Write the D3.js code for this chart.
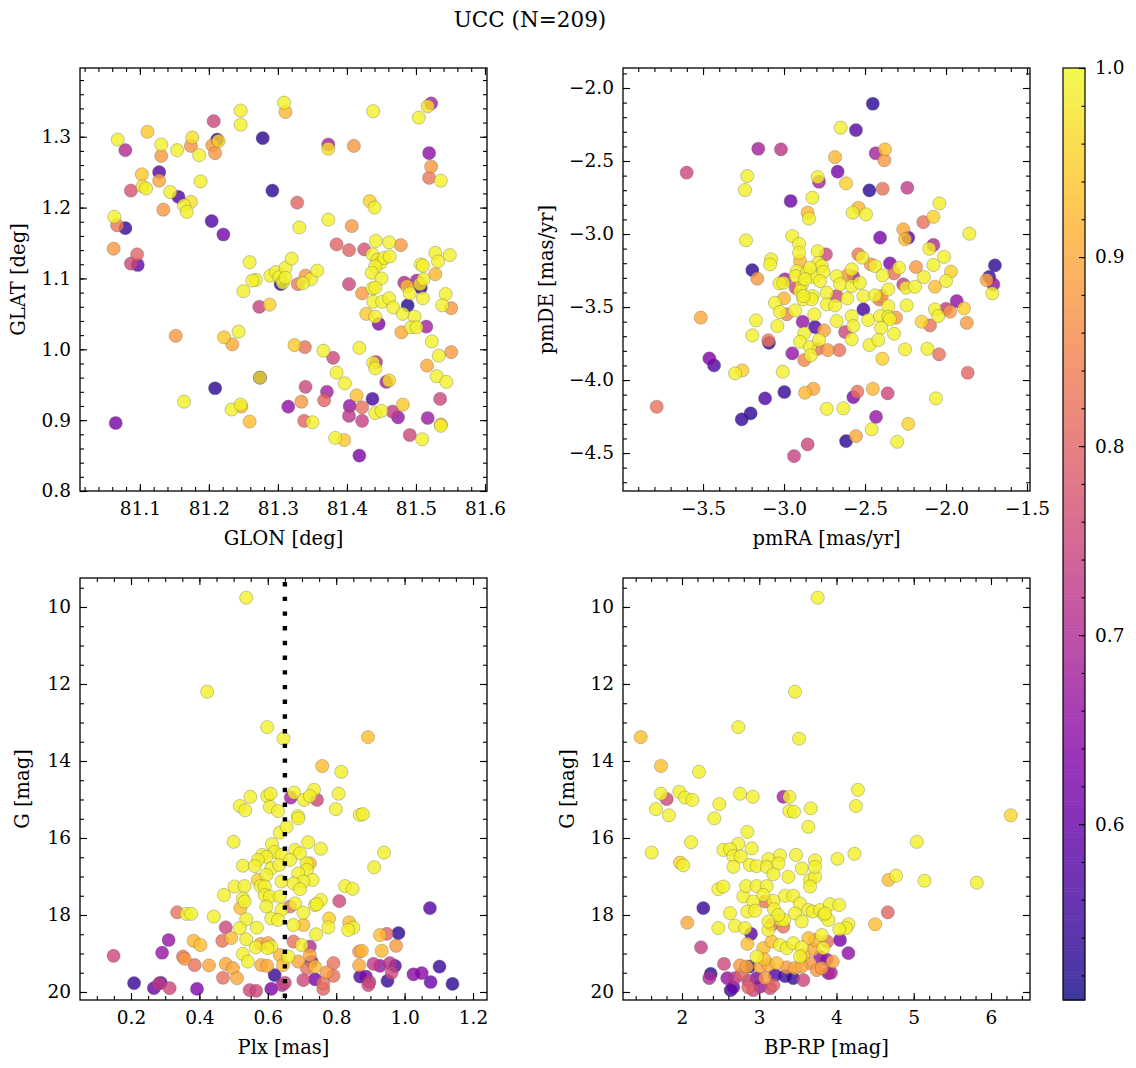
<!DOCTYPE html>
<html><head><meta charset="utf-8">
<script src="https://cdn.jsdelivr.net/npm/d3@7"></script>
<style>body{margin:0;background:#fff}</style>
</head><body><script>
// ---------------- DATA ----------------
const title = "UCC (N=209)";
// [GLON, GLAT, prob]
const glonGlat = [
[81.309,1.348,.99],[81.311,1.335,.92],[81.246,1.337,.99],[81.246,1.317,.99],[81.207,1.322,.75],[81.068,1.296,.99],[81.079,1.281,.70],[81.111,1.307,.94],[81.131,1.289,.99],[81.131,1.273,.88],[81.154,1.281,.99],[81.176,1.299,.97],[81.174,1.287,.87],[81.186,1.274,.99],[81.212,1.296,.53],[81.214,1.294,.96],[81.205,1.288,.88],[81.209,1.277,.88],[81.278,1.298,.53],[81.103,1.247,.94],[81.128,1.250,.58],[81.128,1.238,.90],[81.104,1.230,.97],[81.109,1.227,.99],[81.087,1.224,.77],[81.144,1.222,.99],[81.156,1.215,.57],[81.174,1.208,.97],[81.164,1.203,.99],[81.168,1.194,.99],[81.188,1.237,.99],[81.134,1.197,.88],[81.292,1.224,.53],[81.063,1.187,.99],[81.067,1.175,.83],[81.079,1.171,.54],[81.204,1.181,.57],[81.221,1.162,.62],[81.062,1.142,.88],[81.096,1.134,.80],[81.087,1.121,.75],[81.097,1.119,.59],[81.259,1.123,.99],[81.268,1.098,.99],[81.263,1.097,.99],[81.250,1.082,.99],[81.273,1.060,.74],[81.288,1.063,.95],[81.289,1.104,.99],[81.297,1.109,.99],[81.302,1.102,.99],[81.307,1.094,.99],[81.311,1.115,.99],[81.311,1.101,.99],[81.320,1.128,.99],[81.304,1.092,.53],[81.152,1.019,.88],[81.222,1.017,.94],[81.234,1.007,.90],[81.243,1.025,.99],[81.274,0.960,.53],[81.274,0.960,.97],[81.209,0.945,.53],[81.164,0.926,.99],[81.233,0.915,.99],[81.246,0.922,.99],[81.247,0.919,.93],[81.259,0.898,.93],[81.065,0.896,.62],[81.315,0.919,.65],
[81.438,1.336,.99],[81.504,1.327,.99],[81.517,1.343,.97],[81.522,1.347,.68],[81.519,1.277,.65],[81.522,1.258,.88],[81.519,1.242,.83],[81.536,1.238,.99],[81.373,1.289,.68],[81.373,1.283,.97],[81.410,1.287,.88],[81.328,1.207,.80],[81.433,1.209,.95],[81.440,1.200,.99],[81.331,1.172,.99],[81.373,1.183,.99],[81.407,1.174,.88],[81.385,1.148,.80],[81.403,1.140,.80],[81.425,1.141,.77],[81.442,1.153,.99],[81.461,1.151,.99],[81.478,1.147,.88],[81.437,1.134,.99],[81.444,1.126,.99],[81.449,1.122,.99],[81.441,1.117,.99],[81.454,1.129,.99],[81.462,1.131,.99],[81.436,1.108,.99],[81.450,1.100,.99],[81.340,1.104,.88],[81.348,1.099,.99],[81.336,1.093,.99],[81.329,1.092,.83],[81.357,1.111,.99],[81.403,1.092,.75],[81.422,1.079,.88],[81.437,1.086,.99],[81.441,1.087,.99],[81.438,1.067,.99],[81.451,1.067,.99],[81.461,1.072,.99],[81.467,1.059,.99],[81.483,1.094,.70],[81.487,1.089,.93],[81.491,1.079,.99],[81.501,1.097,.68],[81.507,1.087,.53],[81.506,1.092,.97],[81.510,1.072,.99],[81.511,1.099,.99],[81.507,1.120,.99],[81.510,1.118,.99],[81.528,1.136,.99],[81.532,1.124,.99],[81.549,1.133,.99],[81.528,1.106,.92],[81.543,1.078,.99],[81.538,1.062,.99],[81.551,1.058,.88],[81.488,1.062,.52],[81.481,1.050,.99],[81.498,1.046,.99],[81.493,1.031,.99],[81.501,1.031,.99],[81.515,1.032,.68],[81.479,1.024,.90],[81.428,1.050,.94],[81.441,1.046,.99],[81.446,1.036,.63],[81.523,1.011,.99],[81.533,0.991,.99],[81.551,0.996,.88],[81.516,0.977,.90],[81.530,0.962,.99],[81.544,0.954,.99],[81.535,0.930,.75],[81.324,1.006,.94],[81.339,1.003,.82],[81.366,0.998,.99],[81.380,0.988,.75],[81.418,1.002,.99],[81.385,0.967,.99],[81.397,0.952,.99],[81.438,0.981,.99],[81.442,0.982,.70],[81.441,0.973,.99],[81.457,0.954,.68],[81.461,0.956,.97],[81.340,0.947,.75],[81.371,0.940,.68],[81.367,0.928,.80],[81.334,0.926,.88],[81.414,0.935,.93],[81.437,0.930,.56],[81.404,0.920,.66],[81.422,0.918,.82],[81.403,0.906,.72],[81.422,0.899,.74],[81.441,0.910,.99],[81.450,0.913,.99],[81.466,0.912,.73],[81.474,0.904,.66],[81.481,0.922,.94],[81.338,0.899,.80],[81.350,0.897,.99],[81.517,0.903,.67],[81.536,0.894,.94],[81.536,0.892,.99],[81.491,0.879,.75],[81.509,0.873,.99],[81.383,0.875,.99],[81.396,0.872,.94],[81.418,0.850,.63]
];
// [pmRA, pmDE, prob]
const pmraPmde = [
[-3.159,-2.416,.68],[-3.019,-2.420,.72],[-3.601,-2.580,.75],[-3.227,-2.603,.99],[-3.241,-2.699,.99],[-2.792,-2.610,.99],[-2.784,-2.642,.68],[-2.959,-2.774,.60],[-2.825,-2.751,.99],[-2.854,-2.854,.92],[-2.846,-2.895,.99],[-3.235,-3.043,.99],[-2.949,-3.014,.99],[-2.907,-3.067,.99],[-2.907,-3.128,.99],[-2.792,-3.117,.99],[-2.741,-3.139,.75],[-3.080,-3.173,.99],[-3.086,-3.208,.99],[-2.901,-3.185,.92],[-3.196,-3.247,.53],[-3.165,-3.306,.88],[-3.029,-3.338,.99],[-2.994,-3.310,.68],[-3.004,-3.334,.99],[-2.928,-3.368,.75],[-2.891,-3.352,.99],[-2.823,-3.425,.99],[-2.881,-3.447,.99],[-3.000,-3.441,.92],[-3.056,-3.471,.99],[-3.025,-3.534,.99],[-2.983,-3.550,.85],[-2.932,-3.523,.99],[-2.813,-3.550,.99],[-2.736,-3.402,.99],[-2.736,-3.482,.99],[-3.514,-3.573,.90],[-3.173,-3.591,.99],[-3.041,-3.630,.99],[-2.885,-3.601,.66],[-2.809,-3.637,.57],[-2.875,-3.680,.99],[-2.753,-3.660,.90],[-3.196,-3.694,.99],[-3.097,-3.728,.83],[-3.093,-3.745,.53],[-2.901,-3.738,.99],[-2.840,-3.774,.99],[-2.784,-3.726,.99],[-2.792,-3.786,.82],[-2.730,-3.795,.88],[-2.949,-3.817,.66],[-2.835,-3.831,.99],[-2.875,-3.863,.85],[-3.461,-3.852,.63],[-3.432,-3.900,.57],[-3.302,-3.954,.99],[-3.257,-3.934,.95],[-3.008,-3.943,.99],[-2.998,-4.082,.54],[-3.117,-4.126,.57],[-2.870,-4.087,.92],[-2.819,-4.060,.90],[-3.206,-4.228,.53],[-3.261,-4.269,.54],[-3.786,-4.183,.82],[-2.736,-4.197,.99],[-2.854,-4.441,.75],[-2.938,-4.521,.74],
[-2.788,-3.197,.99],[-2.767,-3.219,.99],[-2.922,-3.254,.99],[-2.928,-3.288,.99],[-2.860,-3.265,.99],[-2.813,-3.295,.99],[-2.757,-3.260,.99],[-2.840,-3.231,.99],[-2.870,-3.310,.99],[-2.778,-3.322,.99],[-2.901,-3.391,.99],[-2.829,-3.447,.99],[-2.881,-3.425,.99],
[-2.452,-2.108,.53],[-2.650,-2.272,.99],[-2.556,-2.288,.58],[-2.434,-2.447,.68],[-2.377,-2.420,.93],[-2.381,-2.495,.88],[-2.685,-2.473,.92],[-2.669,-2.573,.62],[-2.617,-2.653,.95],[-2.473,-2.701,.53],[-2.391,-2.690,.82],[-2.239,-2.683,.73],[-2.576,-2.854,.99],[-2.541,-2.820,.92],[-2.494,-2.865,.99],[-2.041,-2.790,.99],[-2.078,-2.882,.95],[-2.140,-2.918,.82],[-1.856,-2.998,.99],[-2.407,-3.025,.62],[-2.264,-2.968,.90],[-2.233,-3.025,.58],[-2.253,-3.036,.93],[-2.078,-3.075,.70],[-2.103,-3.101,.99],[-2.012,-3.156,.99],[-1.698,-3.215,.53],[-1.733,-3.293,.55],[-1.749,-3.315,.90],[-1.708,-3.345,.65],[-1.714,-3.406,.99],[-2.541,-3.139,.83],[-2.517,-3.162,.99],[-2.582,-3.242,.99],[-2.465,-3.208,.88],[-2.438,-3.219,.99],[-2.346,-3.201,.63],[-2.290,-3.231,.99],[-2.321,-3.269,.82],[-2.391,-3.283,.99],[-2.185,-3.226,.88],[-2.078,-3.212,.99],[-1.969,-3.258,.95],[-2.136,-3.295,.99],[-2.000,-3.322,.99],[-2.068,-3.361,.93],[-2.264,-3.345,.73],[-2.247,-3.368,.99],[-2.191,-3.361,.99],[-2.356,-3.379,.99],[-2.675,-3.288,.99],[-2.654,-3.345,.99],[-2.582,-3.356,.99],[-2.609,-3.441,.99],[-2.685,-3.489,.99],[-2.510,-3.425,.99],[-2.438,-3.420,.99],[-2.412,-3.447,.83],[-2.397,-3.425,.88],[-2.675,-3.425,.75],[-2.531,-3.334,.99],[-2.609,-3.283,.88],[-2.572,-3.293,.68],[-2.356,-3.493,.99],[-2.243,-3.489,.99],[-2.510,-3.516,.55],[-2.480,-3.589,.99],[-2.407,-3.562,.99],[-2.356,-3.567,.99],[-2.309,-3.573,.88],[-2.346,-3.584,.99],[-2.582,-3.562,.99],[-2.572,-3.630,.99],[-2.675,-3.596,.99],[-2.401,-3.642,.99],[-2.321,-3.683,.99],[-2.623,-3.671,.75],[-2.582,-3.721,.99],[-2.659,-3.795,.82],[-2.473,-3.760,.99],[-2.418,-3.726,.99],[-2.393,-3.854,.95],[-2.253,-3.790,.99],[-2.150,-3.601,.95],[-2.099,-3.626,.82],[-2.068,-3.516,.99],[-2.048,-3.562,.99],[-2.000,-3.512,.73],[-1.975,-3.532,.88],[-1.934,-3.459,.65],[-1.889,-3.509,.95],[-1.872,-3.608,.88],[-2.115,-3.786,.99],[-2.043,-3.824,.82],[-1.866,-3.950,.80],[-2.062,-4.126,.99],[-2.572,-4.117,.63],[-2.547,-4.080,.82],[-2.452,-4.060,.92],[-2.360,-4.091,.75],[-2.634,-4.194,.99],[-2.432,-4.252,.66],[-2.459,-4.338,.99],[-2.233,-4.300,.95],[-2.617,-4.418,.53],[-2.556,-4.384,.90],[-2.301,-4.423,.99]
];
// [Plx, G, prob]
const plxG = [
[0.537,9.76,.99],[0.423,12.20,.99],[0.598,13.12,.99],[0.646,13.42,.99],[0.893,13.38,.93],[0.759,14.13,.93],[0.815,14.28,.99],[0.549,14.93,.99],[0.598,14.91,.99],[0.608,14.85,.99],[0.518,15.17,.99],[0.534,15.28,.99],[0.606,15.19,.99],[0.630,15.30,.99],[0.677,14.82,.99],[0.667,14.95,.68],[0.706,15.01,.99],[0.735,14.75,.99],[0.723,14.91,.99],[0.744,15.01,.75],[0.807,14.85,.99],[0.799,15.25,.99],[0.869,15.40,.99],[0.878,15.38,.99],[0.688,15.43,.99],
[0.635,15.86,.99],[0.500,16.10,.99],[0.612,16.16,.99],[0.620,16.36,.99],[0.584,16.44,.99],[0.596,16.49,.99],[0.571,16.57,.99],[0.527,16.72,.99],[0.562,16.73,.99],[0.610,16.79,.99],[0.640,16.44,.99],[0.633,16.70,.99],[0.596,16.96,.99],[0.571,17.09,.95],[0.579,17.25,.99],[0.591,17.26,.99],[0.640,17.13,.99],[0.503,17.26,.99],[0.532,17.25,.99],[0.472,17.48,.99],[0.527,17.57,.99],[0.532,17.65,.99],[0.520,17.82,.93],[0.591,17.48,.99],[0.606,17.52,.99],[0.596,17.78,.99],[0.635,17.52,.99],[0.640,17.87,.99],[0.610,18.09,.99],[0.630,18.13,.99],[0.335,17.93,.82],[0.362,17.97,.99],[0.376,17.97,.99],[0.442,18.04,.99],[0.537,18.11,.99],[0.568,18.33,.99],[0.477,18.32,.75],[0.518,18.34,.99],[0.493,18.60,.93],[0.537,18.63,.99],[0.467,18.67,.82],[0.310,18.65,.66],[0.383,18.67,.92],[0.403,18.78,.93],[0.565,18.84,.99],[0.579,18.75,.90],[0.601,18.73,.90],[0.610,18.82,.99],[0.599,18.86,.99],[0.527,19.01,.99],[0.542,19.21,.99],[0.291,18.98,.66],[0.352,19.08,.82],[0.357,19.14,.88],[0.386,19.30,.82],[0.428,19.31,.90],[0.477,19.27,.90],[0.498,19.38,.90],[0.149,19.06,.75],[0.469,19.63,.82],[0.510,19.64,.90],[0.581,19.30,.90],[0.598,19.32,.90],[0.620,19.56,.54],[0.644,19.30,.93],[0.635,19.04,.92],[0.209,19.77,.54],[0.287,19.76,.57],[0.282,19.78,.73],[0.267,19.90,.60],[0.313,19.90,.75],[0.393,19.92,.63],[0.547,19.95,.75],[0.566,19.97,.75],[0.610,19.92,.63],[0.642,19.82,.70],
[0.689,15.49,.99],[0.655,15.71,.99],[0.718,16.11,.99],[0.755,16.28,.99],[0.680,16.31,.99],[0.694,16.40,.99],[0.665,16.57,.99],[0.714,16.66,.99],[0.723,16.66,.93],[0.714,16.83,.99],[0.689,16.92,.99],[0.731,17.09,.99],[0.704,17.13,.99],[0.675,17.18,.99],[0.694,17.33,.99],[0.940,16.38,.99],[0.911,16.76,.99],[0.826,17.25,.99],[0.848,17.32,.99],[0.809,17.64,.75],[0.755,17.61,.99],[0.738,17.74,.99],[0.743,17.72,.99],[0.680,17.70,.99],[0.665,17.78,.82],[0.704,17.94,.99],[0.779,18.09,.95],[0.777,18.32,.99],[0.838,18.19,.93],[0.850,18.33,.99],[0.835,18.39,.99],[0.675,18.26,.99],[0.704,18.26,.93],[0.741,18.50,.99],[0.928,18.52,.93],[0.948,18.49,.80],[0.982,18.47,.53],[1.074,17.82,.58],[0.975,18.80,.88],[0.675,18.69,.82],[0.699,18.78,.99],[0.723,18.82,.70],[0.723,19.04,.90],[0.728,19.21,.65],[0.660,19.08,.99],[0.689,19.21,.90],[0.738,19.34,.93],[0.714,19.38,.82],[0.792,19.25,.82],[0.772,19.49,.88],[0.792,19.58,.82],[0.704,19.69,.75],[0.738,19.67,.62],[0.762,19.77,.82],[0.762,19.92,.80],[0.650,19.76,.75],[0.867,18.95,.88],[0.875,18.93,.92],[0.933,18.93,.92],[0.867,19.31,.90],[0.909,19.27,.73],[0.928,19.32,.66],[0.957,19.25,.72],[0.972,19.32,.58],[0.962,19.50,.75],[0.870,19.60,.57],[0.887,19.60,.63],[0.897,19.74,.73],[0.894,19.82,.75],[0.950,19.71,.54],[1.026,19.54,.64],[1.050,19.51,.64],[1.076,19.74,.60],[1.102,19.34,.54],[1.140,19.79,.53]
];
// [BP-RP, G, prob]
const bprpG = [
[3.757,9.76,.99],[3.463,12.20,.99],[2.729,13.12,.99],[3.515,13.42,.99],[1.465,13.38,.93],[1.728,14.13,.93],[2.220,14.28,.99],[1.728,14.85,.99],[1.802,14.99,.75],[1.965,14.80,.99],[2.039,14.95,.99],[2.133,15.01,.99],[1.663,15.25,.99],[1.831,15.41,.99],[2.483,15.12,.99],[2.418,15.49,.99],[2.751,14.85,.99],[2.916,14.93,.99],[3.312,14.93,.68],[3.389,14.93,.99],[3.389,15.30,.99],[3.450,15.32,.99],[3.667,15.23,.99],[3.636,15.71,.99],[4.278,14.75,.99],[4.252,15.17,.99],[6.256,15.41,.96],[5.039,16.10,.99],[1.607,16.38,.99],[2.117,16.11,.99],[2.846,15.84,.99],[2.729,16.15,.99],[2.903,16.27,.99],[2.535,16.31,.99],[2.622,16.29,.99],[2.664,16.47,.99],[2.760,16.48,.99],[3.269,16.45,.99],[3.476,16.44,.99],[3.722,16.58,.99],[4.011,16.54,.99],[4.232,16.41,.99],[3.118,16.55,.99],[1.974,16.64,.95],[2.017,16.71,.99],
[2.470,17.33,.99],[2.535,17.26,.99],[2.276,17.82,.54],[2.069,18.20,.90],[2.246,18.84,.74],[2.470,18.34,.99],[2.622,17.95,.99],[2.686,18.28,.99],[2.816,18.34,.99],[2.894,18.49,.58],[2.846,18.75,.93],[2.794,17.52,.99],[2.923,17.65,.99],[2.846,17.91,.99],[2.946,17.89,.99],[2.829,17.25,.99],[2.967,17.25,.99],[3.097,17.25,.99],[3.075,17.65,.82],[3.183,17.63,.99],[2.664,16.75,.99],[2.880,16.70,.99],[2.967,16.73,.99],[3.097,16.75,.99],[3.247,16.66,.99],[3.183,16.94,.99],[3.377,17.01,.99],[3.550,16.79,.99],[3.658,17.09,.99],[3.722,17.01,.99],[3.722,16.75,.99],[3.658,17.26,.99],[3.053,17.48,.99],[3.334,17.50,.99],[3.441,17.50,.99],[3.528,17.70,.99],[3.636,17.87,.99],[3.693,17.91,.99],[3.191,17.85,.99],[3.282,18.13,.99],[3.321,18.13,.99],[3.247,18.00,.99],[3.463,17.96,.99],[3.550,18.17,.99],[3.787,17.87,.99],[3.839,18.00,.99],[3.895,18.13,.99],[3.118,18.39,.99],[3.118,18.17,.99],[3.161,18.26,.82],[3.312,18.30,.82],[3.053,18.86,.93],[3.161,18.69,.93],[3.269,18.78,.99],[3.356,18.86,.99],[3.441,18.73,.99],[3.550,18.84,.99],[3.636,18.60,.93],[3.722,18.65,.92],[3.809,18.52,.99],[3.700,18.89,.90],[3.571,19.04,.93],[3.528,19.08,.99],[2.967,19.08,.99],[3.066,19.15,.93],[2.838,19.34,.90],[3.010,19.34,.90],[3.118,19.30,.90],[3.226,19.25,.93],[3.356,19.36,.88],[3.463,19.38,.90],[3.550,19.34,.90],[3.658,19.25,.88],[2.751,19.31,.88],[2.871,19.34,.53],[2.544,19.27,.75],[2.372,19.53,.53],[2.353,19.64,.70],[2.586,19.64,.66],[2.686,19.64,.72],[2.772,19.53,.80],[2.858,19.71,.73],[2.967,19.64,.62],[3.075,19.64,.88],[3.204,19.56,.57],[3.334,19.59,.54],[3.441,19.64,.54],[3.571,19.69,.75],[2.664,19.88,.60],[2.630,19.95,.55],[2.858,19.88,.80],[2.923,19.95,.75],[3.010,19.86,.66],[3.140,19.90,.75],[3.183,19.82,.80],[3.787,19.09,.65],[3.873,19.16,.65],[3.895,19.51,.65],[3.744,19.43,.88],[3.809,19.38,.88],[3.830,18.86,.99],
[4.673,17.09,.93],[4.772,16.98,.99],[5.139,17.11,.99],[5.816,17.16,.99],[4.664,17.93,.80],[4.500,18.24,.93],[3.916,17.72,.99],[4.036,17.74,.99],[3.852,17.96,.99],[4.154,18.24,.99],[4.124,18.34,.99],[4.036,18.37,.99],[3.880,18.69,.82],[4.046,18.65,.62],[4.154,18.99,.65],[3.951,19.21,.90],[3.929,19.50,.70]
];
const plxRef = 0.65;
// tick values
const glonTicks = [81.1,81.2,81.3,81.4,81.5,81.6];
const glatTicks = [0.8,0.9,1.0,1.1,1.2,1.3];
const pmraTicks = [-3.5,-3.0,-2.5,-2.0,-1.5];
const pmdeTicks = [-2.0,-2.5,-3.0,-3.5,-4.0,-4.5];
const plxTicks = [0.2,0.4,0.6,0.8,1.0,1.2];
const gTicks = [10,12,14,16,18,20];
const bprpTicks = [2,3,4,5,6];
const cbTicks = [0.6,0.7,0.8,0.9,1.0];
const probRange = [0.507, 1.0];

// ---------------- DRAW ----------------
const W=1136,H=1068, FONT='"DejaVu Serif", serif';
const TICKFS=18.5, LABFS=19.5, TITLEFS=21.5;
const svg=d3.select("body").append("svg").attr("width",W).attr("height",H);
svg.append("rect").attr("width",W).attr("height",H).attr("fill","#fff");
const cnorm=d3.scaleLinear().domain(probRange).range([0,1]).clamp(true);
const col=p=>d3.interpolatePlasma(cnorm(p));
const minus=s=>s.replace("-","\u2212");
const f1=d=>minus(d3.format(".1f")(d));
const f0=d=>minus(d3.format("d")(d));

function styleAxis(g, fs){
  g.attr("font-family",FONT).attr("font-size",fs);
  g.select(".domain").remove();
  g.selectAll(".tick line").attr("stroke","#000").attr("stroke-width",1.1);
  g.selectAll(".tick text").attr("fill","#000");
}

function minors(dom, step){
  const lo=Math.min(...dom), hi=Math.max(...dom);
  const out=[]; for(let v=Math.ceil(lo/step-1e-9)*step; v<=hi+1e-9; v+=step) out.push(+v.toFixed(6));
  return out;
}

function panel(c){
  const x=d3.scaleLinear().domain(c.xd).range([c.l,c.r]);
  const y=d3.scaleLinear().domain(c.yd).range([c.b,c.t]);
  const id="clip"+c.id;
  svg.append("clipPath").attr("id",id).append("rect")
    .attr("x",c.l).attr("y",c.t).attr("width",c.r-c.l).attr("height",c.b-c.t);
  const pts=c.data.slice().sort((a,b)=>a[2]-b[2]);
  svg.append("g").attr("clip-path",`url(#${id})`).selectAll("circle").data(pts).join("circle")
    .attr("cx",d=>x(d[0])).attr("cy",d=>y(d[1])).attr("r",6.6)
    .attr("fill",d=>col(d[2])).attr("fill-opacity",0.8)
    .attr("stroke","#5a5a5a").attr("stroke-opacity",0.55).attr("stroke-width",0.6);
  if(c.vline!==undefined){
    svg.append("line").attr("x1",x(c.vline)).attr("x2",x(c.vline))
      .attr("y1",c.t+4).attr("y2",c.b).attr("stroke","#000").attr("stroke-width",4.4)
      .attr("stroke-dasharray","4.4 10.3");
  }
  const MJ=-7, MN=-4;
  const xm=minors(c.xd,c.xminor), ym=minors(c.yd,c.yminor);
  // bottom
  styleAxis(svg.append("g").attr("transform",`translate(0,${c.b})`)
    .call(d3.axisBottom(x).tickValues(xm).tickSize(MN).tickFormat("")),TICKFS);
  styleAxis(svg.append("g").attr("transform",`translate(0,${c.b})`)
    .call(d3.axisBottom(x).tickValues(c.xt).tickSize(MJ).tickPadding(11).tickFormat(c.xf)),TICKFS);
  // top
  styleAxis(svg.append("g").attr("transform",`translate(0,${c.t})`)
    .call(d3.axisTop(x).tickValues(xm).tickSize(MN).tickFormat("")),TICKFS);
  styleAxis(svg.append("g").attr("transform",`translate(0,${c.t})`)
    .call(d3.axisTop(x).tickValues(c.xt).tickSize(MJ).tickFormat("")),TICKFS);
  // left
  styleAxis(svg.append("g").attr("transform",`translate(${c.l},0)`)
    .call(d3.axisLeft(y).tickValues(ym).tickSize(MN).tickFormat("")),TICKFS);
  styleAxis(svg.append("g").attr("transform",`translate(${c.l},0)`)
    .call(d3.axisLeft(y).tickValues(c.yt).tickSize(MJ).tickPadding(9).tickFormat(c.yf)),TICKFS);
  // right
  styleAxis(svg.append("g").attr("transform",`translate(${c.r},0)`)
    .call(d3.axisRight(y).tickValues(ym).tickSize(MN).tickFormat("")),TICKFS);
  styleAxis(svg.append("g").attr("transform",`translate(${c.r},0)`)
    .call(d3.axisRight(y).tickValues(c.yt).tickSize(MJ).tickFormat("")),TICKFS);
  // frame
  svg.append("rect").attr("x",c.l).attr("y",c.t).attr("width",c.r-c.l).attr("height",c.b-c.t)
    .attr("fill","none").attr("stroke","#000").attr("stroke-width",1.3);
  // labels
  svg.append("text").attr("x",(c.l+c.r)/2).attr("y",c.b+54).attr("text-anchor","middle")
    .attr("font-family",FONT).attr("font-size",LABFS).text(c.xl);
  svg.append("text").attr("transform",`translate(${c.ylx},${(c.t+c.b)/2}) rotate(-90)`)
    .attr("text-anchor","middle").attr("dominant-baseline","central")
    .attr("font-family",FONT).attr("font-size",LABFS).text(c.yl);
}

panel({id:1,data:glonGlat,l:80,r:487,t:68,b:491,xd:[81.0133,81.6029],yd:[0.8,1.397],
  xt:glonTicks,yt:glatTicks,xminor:0.02,yminor:0.02,xf:f1,yf:f1,xl:"GLON [deg]",yl:"GLAT [deg]",ylx:18});
panel({id:2,data:pmraPmde,l:623,r:1030,t:68,b:491,xd:[-3.994,-1.4815],yd:[-4.760,-1.863],
  xt:pmraTicks,yt:pmdeTicks,xminor:0.1,yminor:0.1,xf:f1,yf:f1,xl:"pmRA [mas/yr]",yl:"pmDE [mas/yr]",ylx:546});
panel({id:3,data:plxG,l:80,r:487,t:578,b:1000,xd:[0.0509,1.2409],yd:[20.208,9.247],
  xt:plxTicks,yt:gTicks,xminor:0.05,yminor:0.5,xf:f1,yf:f0,xl:"Plx [mas]",yl:"G [mag]",ylx:22,vline:plxRef});
panel({id:4,data:bprpG,l:623,r:1030,t:578,b:1000,xd:[1.2362,6.505],yd:[20.208,9.247],
  xt:bprpTicks,yt:gTicks,xminor:0.2,yminor:0.5,xf:f0,yf:f0,xl:"BP-RP [mag]",yl:"G [mag]",ylx:567});

// colorbar
const cb={l:1063,r:1085,t:68,b:1000};
const cy=d3.scaleLinear().domain(probRange).range([cb.b,cb.t]);
const steps=d3.range(0,300);
const gcb=svg.append("g").attr("opacity",0.8);
gcb.selectAll("rect").data(steps).join("rect")
  .attr("x",cb.l).attr("width",cb.r-cb.l)
  .attr("y",i=>cy(probRange[0]+(i+1)*(probRange[1]-probRange[0])/300))
  .attr("height",(cb.b-cb.t)/300+0.6)
  .attr("fill",i=>col(probRange[0]+(i+0.5)*(probRange[1]-probRange[0])/300));
styleAxis(svg.append("g").attr("transform",`translate(${cb.r},0)`)
  .call(d3.axisRight(cy).tickValues(minors(probRange,0.02)).tickSize(-3.5).tickFormat("")),TICKFS);
styleAxis(svg.append("g").attr("transform",`translate(${cb.r},0)`)
  .call(d3.axisRight(cy).tickValues(cbTicks).tickSize(-6).tickPadding(10).tickFormat(f1)),TICKFS);
svg.append("rect").attr("x",cb.l).attr("y",cb.t).attr("width",cb.r-cb.l).attr("height",cb.b-cb.t)
  .attr("fill","none").attr("stroke","#000").attr("stroke-width",1.2);

// title
svg.append("text").attr("x",530).attr("y",27).attr("text-anchor","middle")
  .attr("font-family",FONT).attr("font-size",TITLEFS).text(title);
</script></body></html>
